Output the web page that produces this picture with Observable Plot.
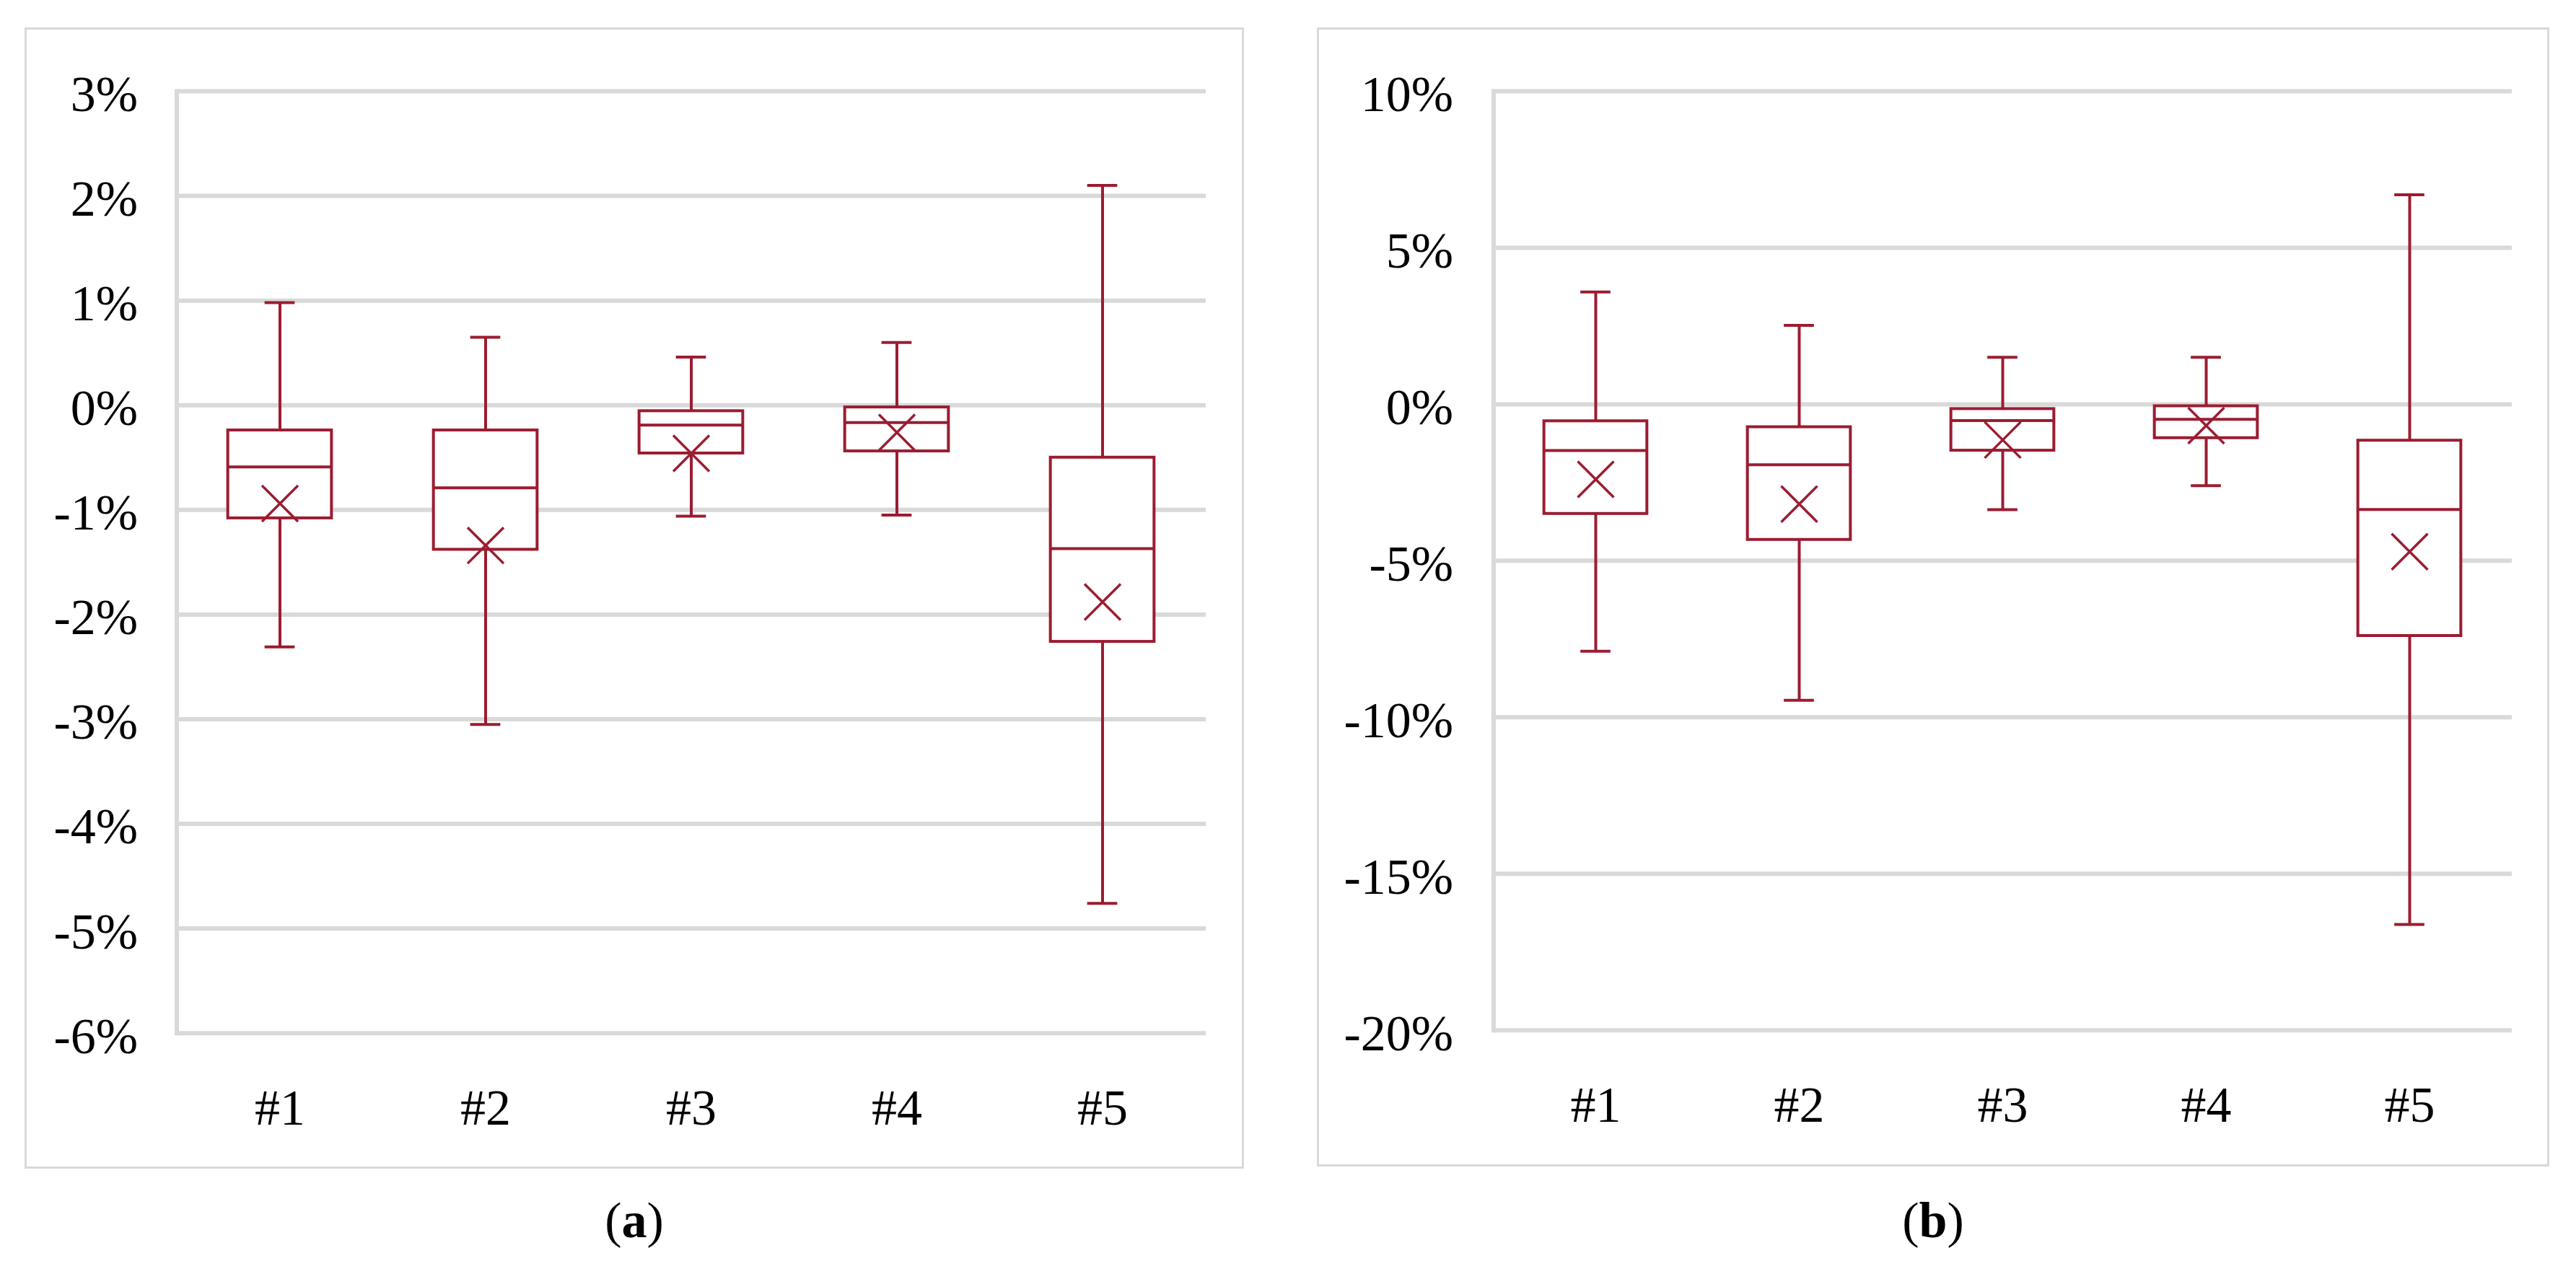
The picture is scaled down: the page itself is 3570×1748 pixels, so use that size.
<!DOCTYPE html>
<html><head><meta charset="utf-8">
<script src="https://cdn.jsdelivr.net/npm/d3@7"></script>
<script src="https://cdn.jsdelivr.net/npm/@observablehq/plot@0.6"></script>
<style>
html,body{margin:0;padding:0;background:#fff;}
#wrap{position:relative;width:3570px;height:1748px;overflow:hidden;font-family:"Liberation Serif",serif;}
.panel{position:absolute;border:3px solid #d9d9d9;box-sizing:border-box;}
.cap{position:absolute;font-size:70px;line-height:70px;text-align:center;color:#000;width:300px;}
.chart{position:absolute;}
</style></head><body><div id="wrap"></div>
<script>
// categories
const categories = ["#1", "#2", "#3", "#4", "#5"];

// panel (a) statistics, %
const aMin  = [-2.31, -3.05, -1.06, -1.05, -4.76];
const aQ1   = [-1.08, -1.38, -0.46, -0.44, -2.26];
const aMed  = [-0.59, -0.79, -0.19, -0.165, -1.37];
const aQ3   = [-0.24, -0.24, -0.056, -0.02, -0.50];
const aMax  = [0.98, 0.65, 0.46, 0.60, 2.10];
const aMean = [-0.94, -1.34, -0.46, -0.26, -1.88];
const aTicks = [3, 2, 1, 0, -1, -2, -3, -4, -5, -6];

// panel (b) statistics, %
const bMin  = [-7.89, -9.46, -3.37, -2.60, -16.62];
const bQ1   = [-3.50, -4.33, -1.48, -1.08, -7.40];
const bMed  = [-1.48, -1.93, -0.52, -0.48, -3.36];
const bQ3   = [-0.54, -0.73, -0.15, -0.06, -1.16];
const bMax  = [3.585, 2.52, 1.50, 1.50, 6.69];
const bMean = [-2.40, -3.19, -1.14, -0.68, -4.71];
const bTicks = [10, 5, 0, -5, -10, -15, -20];

const captions = ["a", "b"];

const RED = "#9b1c31";
const GRID = "#d9d9d9";

function rows(mins, q1s, meds, q3s, maxs, means) {
  return categories.map((c, i) => ({cat: c, min: mins[i], q1: q1s[i], med: meds[i], q3: q3s[i], max: maxs[i], mean: means[i]}));
}

function panel(data, ticks, L) {
  const band = (L.w - L.ml - L.mr) / categories.length;
  const boxInset = (band - L.boxW) / 2;
  const capInset = (band - L.capW) / 2;
  const ls = {stroke: RED, strokeWidth: 4};
  return Plot.plot({
    width: L.w, height: L.h,
    marginLeft: L.ml, marginRight: L.mr, marginTop: L.mt, marginBottom: L.mb,
    style: {fontFamily: "Liberation Serif", background: "transparent", color: "#000", overflow: "visible"},
    x: {type: "band", domain: categories, padding: 0, axis: null},
    y: {domain: [ticks[ticks.length - 1], ticks[0]], axis: null},
    marks: [
      Plot.ruleY(ticks, {stroke: GRID, strokeWidth: 6}),
      Plot.frame({anchor: "left", stroke: GRID, strokeWidth: 6}),
      Plot.axisY(ticks, {tickFormat: d => d + "%", tickSize: 0, tickPadding: L.tp, fontSize: 70, dy: 5, label: null, fill: "#000"}),
      Plot.axisX(categories, {tickSize: 0, tickPadding: 77, fontSize: 70, label: null, fill: "#000"}),
      Plot.ruleX(data, {x: "cat", y1: "q3", y2: "max", ...ls}),
      Plot.ruleX(data, {x: "cat", y1: "min", y2: "q1", ...ls}),
      Plot.tickY(data, {x: "cat", y: "max", insetLeft: capInset, insetRight: capInset, ...ls}),
      Plot.tickY(data, {x: "cat", y: "min", insetLeft: capInset, insetRight: capInset, ...ls}),
      Plot.barY(data, {x: "cat", y1: "q1", y2: "q3", fill: "white", insetLeft: boxInset, insetRight: boxInset, ...ls}),
      Plot.tickY(data, {x: "cat", y: "med", insetLeft: boxInset, insetRight: boxInset, ...ls}),
      Plot.dot(data, {x: "cat", y: "mean", symbol: "times", r: 22.8, stroke: RED, strokeWidth: 3.5})
    ]
  });
}

const wrap = document.getElementById("wrap");
const layouts = [
  {left: 34, top: 38, w: 1690, h: 1582, ml: 210.5, mr: 53, mt: 88, mb: 188.3, tp: 54, boxW: 144, capW: 42, capX: 879},
  {left: 1825, top: 38, w: 1708, h: 1579, ml: 244.5, mr: 52, mt: 88, mb: 189.3, tp: 56, boxW: 143, capW: 42, capX: 2679}
];
const datasets = [
  [rows(aMin, aQ1, aMed, aQ3, aMax, aMean), aTicks],
  [rows(bMin, bQ1, bMed, bQ3, bMax, bMean), bTicks]
];

layouts.forEach((L, k) => {
  const border = document.createElement("div");
  border.className = "panel";
  Object.assign(border.style, {left: L.left + "px", top: L.top + "px", width: L.w + "px", height: L.h + "px"});
  wrap.appendChild(border);

  const svg = panel(datasets[k][0], datasets[k][1], L);
  svg.classList.add("chart");
  svg.style.left = L.left + "px";
  svg.style.top = L.top + "px";
  wrap.appendChild(svg);

  const cap = document.createElement("div");
  cap.className = "cap";
  cap.style.left = (L.capX - 150) + "px";
  cap.style.top = "1657px";
  cap.innerHTML = "(<b>" + captions[k] + "</b>)";
  wrap.appendChild(cap);
});
</script></body></html>
